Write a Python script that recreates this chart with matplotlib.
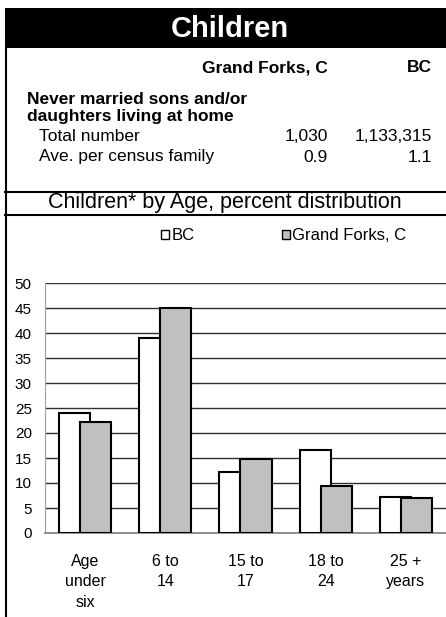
import numpy as np
import matplotlib
matplotlib.use('Agg')
import matplotlib.pyplot as plt
from matplotlib.patches import Rectangle, Patch
from matplotlib.lines import Line2D

plt.rcParams['font.family'] = ['Liberation Sans', 'DejaVu Sans']

# data
places = ['Grand Forks, C', 'BC']
total_number = ['1,030', '1,133,315']
ave_per_family = ['0.9', '1.1']
age_groups = ['Age\nunder\nsix', '6 to\n14', '15 to\n17', '18 to\n24', '25 +\nyears']
bc_pct = [24.1, 39.1, 12.2, 16.6, 7.2]
gf_pct = [22.2, 45.1, 14.9, 9.5, 7.1]
yticks = np.arange(0, 51, 5)

W, H = 446, 617
fig = plt.figure(figsize=(W / 100, H / 100), dpi=100)


def fx(x):
    return x / W


def fy(y):
    return 1 - y / H


# black header band and frame lines
fig.patches.append(Rectangle((fx(5), fy(48)), fx(441), 40 / H, transform=fig.transFigure,
                             facecolor='black', edgecolor='none'))
fig.lines.append(Line2D([fx(5.5), fx(5.5)], [fy(48), fy(617)], transform=fig.transFigure,
                        color='black', lw=1.5))
for yy in (192, 215):
    fig.lines.append(Line2D([fx(5), 1], [fy(yy), fy(yy)], transform=fig.transFigure,
                            color='black', lw=1.5))

fig.text(fx(230), fy(29), 'Children', color='white', fontsize=21, fontweight='bold',
         ha='center', va='center')

# summary table
fs = 12.5
fig.text(fx(328), fy(68), places[0], fontsize=fs, fontweight='bold', ha='right', va='center')
fig.text(fx(432), fy(68), places[1], fontsize=fs, fontweight='bold', ha='right', va='center')
fig.text(fx(27), fy(100), 'Never married sons and/or', fontsize=fs, fontweight='bold', va='center')
fig.text(fx(27), fy(117), 'daughters living at home', fontsize=fs, fontweight='bold', va='center')
fig.text(fx(39), fy(136), 'Total number', fontsize=fs, va='center')
fig.text(fx(39), fy(157), 'Ave. per census family', fontsize=fs, va='center')
fig.text(fx(328), fy(136), total_number[0], fontsize=fs, ha='right', va='center')
fig.text(fx(432), fy(136), total_number[1], fontsize=fs, ha='right', va='center')
fig.text(fx(328), fy(157), ave_per_family[0], fontsize=fs, ha='right', va='center')
fig.text(fx(432), fy(157), ave_per_family[1], fontsize=fs, ha='right', va='center')

fig.text(fx(225), fy(203), 'Children* by Age, percent distribution', fontsize=15.5,
         ha='center', va='center')

# bar chart
ax = fig.add_axes([fx(45), fy(533), (W - 45) / W, 250 / H])
x = np.arange(len(age_groups))
w = 0.3875
off = 0.131
ax.bar(x - off, bc_pct, w, color='white', edgecolor='black', lw=1.5, zorder=3, label='BC')
ax.bar(x + off, gf_pct, w, color='#c0c0c0', edgecolor='black', lw=1.5, zorder=4,
       label='Grand Forks, C')
ax.set_xlim(-0.5, 4.5)
ax.set_ylim(0, 50)
ax.set_yticks(yticks)
ax.yaxis.grid(True, color='#303030', lw=1)
ax.set_axisbelow(True)
ax.set_xticks(x)
ax.set_xticklabels(age_groups, fontsize=11.5, linespacing=1.45)
ax.tick_params(axis='both', length=0)
ax.tick_params(axis='y', pad=9.5, labelsize=11)
ax.tick_params(axis='x', pad=15)
for side in ('top', 'right'):
    ax.spines[side].set_visible(False)
ax.spines['left'].set_color('#a0a0a0')
ax.spines['bottom'].set_color('#808080')
ax.spines['bottom'].set_linewidth(1.2)

handles = [Patch(facecolor='white', edgecolor='black', lw=1),
           Patch(facecolor='#c0c0c0', edgecolor='black', lw=1)]
fig.legend(handles, ['BC', 'Grand Forks, C'], loc='center left',
           bbox_to_anchor=(fx(161), fy(236)), ncol=2, frameon=False, fontsize=12,
           handlelength=0.5, handleheight=0.5, handletextpad=0.15, columnspacing=5.2,
           borderpad=0, borderaxespad=0)

plt.savefig('out.png', dpi=100)
